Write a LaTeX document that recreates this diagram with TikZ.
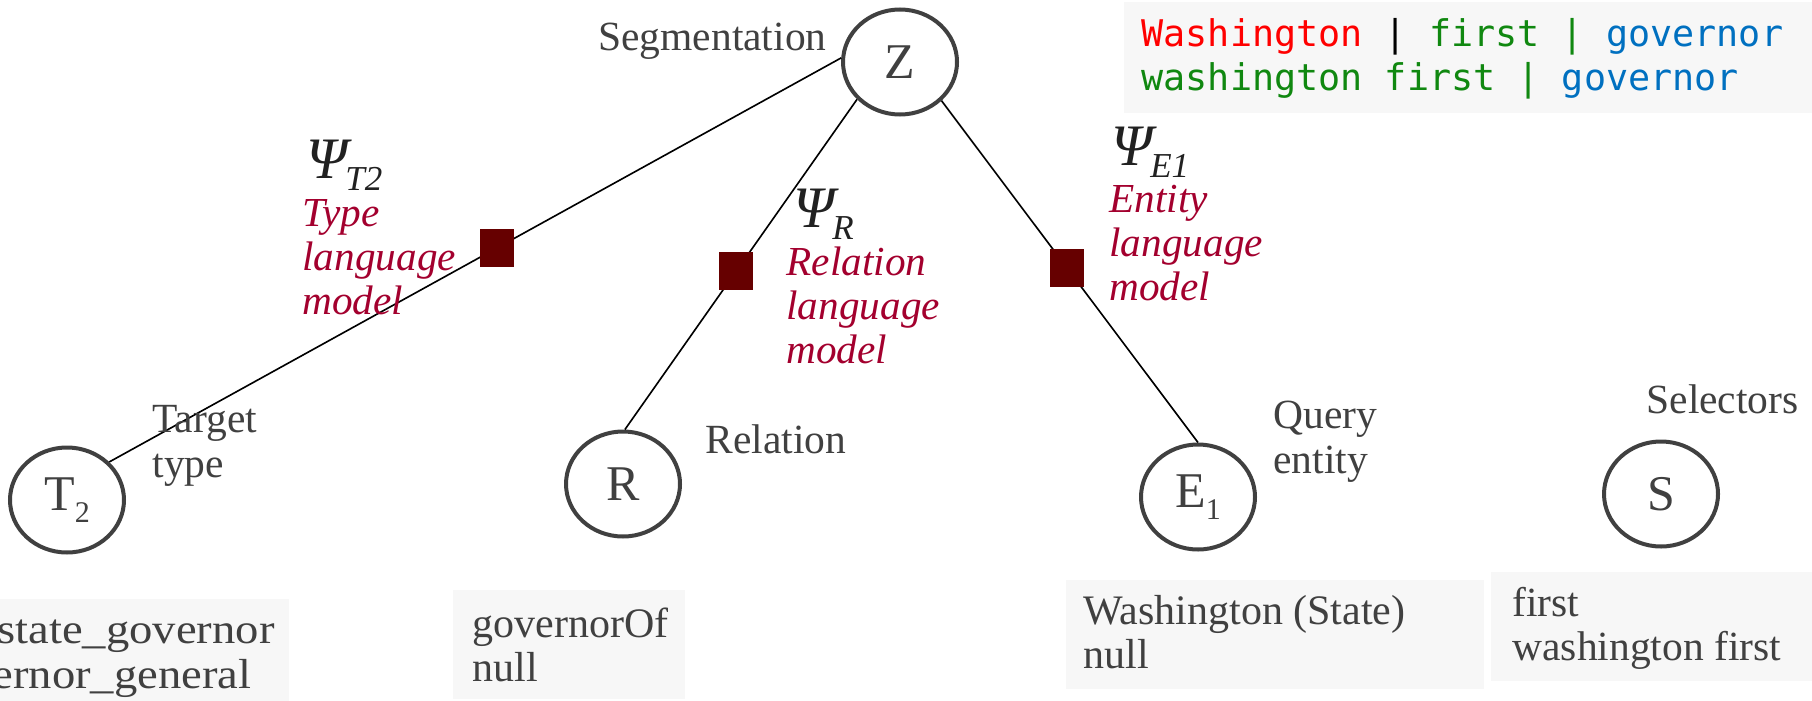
\documentclass[tikz,border=0pt]{standalone}
\usepackage{fontspec}
\setmainfont{Liberation Serif}
\setmonofont{DejaVu Sans Mono}
\usetikzlibrary{shapes.geometric}

\definecolor{inkgray}{RGB}{64,64,64}
\definecolor{lmred}{RGB}{163,0,46}
\definecolor{factorred}{RGB}{102,0,0}
\definecolor{valgray}{RGB}{247,247,247}
\definecolor{segred}{RGB}{255,0,0}
\definecolor{seggreen}{RGB}{16,136,16}
\definecolor{segblue}{RGB}{0,112,192}

\tikzset{
  var/.style={draw=inkgray,line width=1.6pt,ellipse,inner sep=0pt,
    minimum width=45.6pt,minimum height=42pt,text=inkgray,
    font=\fontsize{20}{20}\selectfont},
  factor/.style={fill=factorred,inner sep=0pt,minimum width=13.6pt,minimum height=15.2pt},
  link/.style={line width=0.65pt},
  lbl/.style={inner sep=0pt,anchor=base west,text=inkgray,align=left,
    font=\fontsize{16.6}{18}\selectfont},
  vals/.style={lbl,font=\fontsize{16.8}{17.4}\selectfont},
  lm/.style={inner sep=0pt,anchor=base west,text=lmred,align=left,
    font=\fontsize{16.5}{17.6}\selectfont\itshape},
  psi/.style={inner sep=0pt,anchor=base west,text=black!87,font=\itshape},
  valbox/.style={fill=valgray,inner sep=0pt,anchor=north west},
}
\newcommand{\psilabel}[1]{{\fontsize{23.5}{23.5}\selectfont Ψ}\kern-1pt{\fontsize{14}{14}\selectfont\raisebox{-4.8pt}{#1}}}
\newcommand{\subidx}[1]{\raisebox{-0.25em}{\fontsize{12}{12}\selectfont #1}}
\newcommand{\wide}[1]{\scalebox{1.11}[1]{#1}}

\begin{document}
\begin{tikzpicture}[x=0.4pt,y=-0.4pt]
%
  \useasboundingbox (0,0) rectangle (1812,700);
  % variables
  \node (Z)  at (900,62)  [var] {Z};
  \node (T2) at (67,500)  [var] {T\subidx{2}};
  \node (R)  at (623,484) [var] {R};
  \node (E1) at (1198,497) [var] {E\subidx{1}};
  \node (S)  at (1661,494) [var] {S};
  % factors on the links
  \draw [link] (Z.176) -- node[factor,pos=.47] (fT) {} (T2.42);
  \draw [link] (Z.221) -- node[factor,pos=.52] (fR) {} (R.88);
  \draw [link] (Z.317) -- node[factor,pos=.49] (fE) {} (E1.north);
  % variable labels (multi-line nodes sit on their last line)
  \node (segl) at (827,50) [lbl,anchor=base east] {Segmentation};
  \node (tgtl) at (152,477) [lbl] {Target\\type};
  \node (rell) at (705,453) [lbl] {Relation};
  \node (qryl) at (1273,473) [lbl] {Query\\entity};
  \node (sell) at (1646,413) [lbl] {Selectors};
  % factor labels
  \node (psiT) at (306,178) [psi] {\psilabel{T2}};
  \node (lmT)  at (302,314) [lm] {Type\\language\\model};
  \node (psiR) at (793,227) [psi] {\psilabel{R}};
  \node (lmR)  at (786,363) [lm] {Relation\\language\\model};
  \node (psiE) at (1111,165) [psi] {\psilabel{E1}};
  \node (lmE)  at (1109,300) [lm] {Entity\\language\\model};
  % segmentations of the query
  \node (segbox) at (1123,1) [valbox,minimum width=280pt,minimum height=44.4pt] {};
  \node (segs) at (1141,90) [inner sep=0pt,anchor=base west,align=left,
    font=\ttfamily\fontsize{14.7}{17.2}\selectfont]
    {\textcolor{segred}{Washington} | \textcolor{seggreen}{first |} \textcolor{segblue}{governor}\\
     \textcolor{seggreen}{washington first |} \textcolor{segblue}{governor}};
  % candidate values
  \node (t2box) at (-20,598) [valbox,minimum width=123.2pt,minimum height=44.8pt] {};
  \node (t2val) at (-3,688) [vals,font=\fontsize{16.8}{18}\selectfont]
    {\wide{state\_governor}\\\hspace*{-2pt}\wide{ernor\_general}};
  \node (rbox) at (452,589) [valbox,minimum width=92.8pt,minimum height=43.6pt] {};
  \node (rval) at (472,681) [vals] {governorOf\\null};
  \node (e1box) at (1065,579) [valbox,minimum width=167.2pt,minimum height=43.6pt] {};
  \node (e1val) at (1083,668) [vals] {Washington (State)\\null};
  \node (sbox) at (1490,571) [valbox,minimum width=136pt,minimum height=43.6pt] {};
  \node (sval) at (1512,660) [vals,font=\fontsize{16.6}{17.6}\selectfont] {first\\washington first};
%
\end{tikzpicture}
\end{document}
